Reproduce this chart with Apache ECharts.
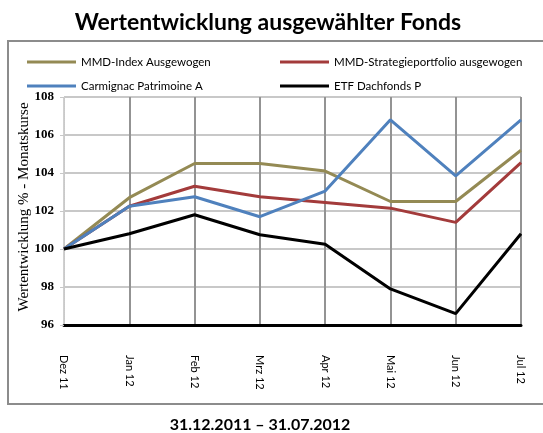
<!DOCTYPE html>
<html>
<head>
<meta charset="utf-8">
<script src="https://cdn.jsdelivr.net/npm/echarts@6/dist/echarts.min.js"></script>
<style>
  html, body { margin: 0; padding: 0; background: #fff; }
  #chart { width: 543px; height: 433px; }
</style>
</head>
<body>
<div id="chart"></div>
<script>
// Monatswerte, Start = 100
const months = ['Dez 11', 'Jan 12', 'Feb 12', 'Mrz 12', 'Apr 12', 'Mai 12', 'Jun 12', 'Jul 12'];
const mmdIndex = [100, 102.7, 104.5, 104.5, 104.1, 102.5, 102.5, 105.2];
const mmdStrategie = [100, 102.25, 103.3, 102.75, 102.45, 102.15, 101.4, 104.55];
const carmignac = [100, 102.25, 102.75, 101.7, 103.05, 106.8, 103.85, 106.8];
const etfDachfonds = [100, 100.8, 101.8, 100.75, 100.25, 97.9, 96.6, 100.8];
const yTicks = [96, 98, 100, 102, 104, 106, 108];

const names = ['MMD-Index Ausgewogen', 'MMD-Strategieportfolio ausgewogen', 'Carmignac Patrimoine A', 'ETF Dachfonds P'];
const colors = ['#948A54', '#A33B3B', '#4F81BD', '#000000'];
const values = [mmdIndex, mmdStrategie, carmignac, etfDachfonds];

const legendPos = [
  { left: 27, top: 56 },
  { left: 280, top: 56 },
  { left: 27, top: 80 },
  { left: 280, top: 80 }
];

const legendFont = { fontFamily: 'Lato', fontSize: 11.5, color: '#000' };

let option = {
  animation: false,
  backgroundColor: '#fff',
  title: {
    text: 'Wertentwicklung ausgewählter Fonds',
    left: 263, top: 6, textAlign: 'center',
    textStyle: { fontFamily: 'Lato', fontWeight: 'bold', fontSize: 23, color: '#000' }
  },
  graphic: [
    {
      type: 'rect', silent: true, z: -1,
      shape: { x: 8, y: 41, width: 560, height: 363 },
      style: { fill: 'none', stroke: '#8c8c8c', lineWidth: 2 }
    },
    {
      // Achsentitel links
      type: 'text', x: 24, y: 207, rotation: Math.PI / 2,
      style: {
        text: 'Wertentwicklung % - Monatskurse', align: 'center', verticalAlign: 'middle',
        fontFamily: 'Liberation Serif', fontSize: 15, fill: '#000'
      }
    },
    {
      type: 'text', x: 260, y: 425,
      style: {
        text: '31.12.2011 – 31.07.2012', align: 'center', verticalAlign: 'middle',
        fontFamily: 'Lato', fontWeight: 'bold', fontSize: 16, fill: '#000'
      }
    }
  ],
  legend: names.map((n, i) => ({
    data: [n],
    left: legendPos[i].left, top: legendPos[i].top, padding: 0,
    icon: 'rect', itemWidth: 49, itemHeight: 3,
    textStyle: legendFont
  })),
  grid: { left: 64, right: 22, top: 97, bottom: 108 },
  xAxis: {
    type: 'category',
    data: months,
    boundaryGap: false,
    axisLine: { lineStyle: { color: '#000', width: 3 } },
    axisTick: { show: false },
    axisLabel: { rotate: -90, margin: 30, fontFamily: 'Lato', fontSize: 11, color: '#000' },
    splitLine: {
      show: true,
      lineStyle: { color: ['#d0d0d0', '#939393', '#939393', '#939393', '#939393', '#939393', '#939393', '#939393'], width: 2 }
    }
  },
  yAxis: {
    type: 'value',
    min: yTicks[0], max: yTicks[yTicks.length - 1], interval: 2,
    axisLine: { show: true, lineStyle: { color: '#c8c8c8', type: 'dotted', width: 1 } },
    axisTick: { show: true, length: 4, lineStyle: { color: '#c8c8c8' } },
    axisLabel: { margin: 10, fontFamily: 'Liberation Serif', fontWeight: 'bold', fontSize: 13, color: '#000' },
    splitLine: { lineStyle: { color: '#c8c8c8', width: 2 } }
  },
  series: names.map((n, i) => ({
    name: n,
    type: 'line',
    data: values[i],
    symbol: 'none',
    color: colors[i],
    lineStyle: { width: 3, color: colors[i] },
    z: 3 + (i === 3 ? 1 : 0)
  }))
};

let myChart = echarts.init(document.getElementById('chart'));
myChart.setOption(option);
</script>
</body>
</html>
